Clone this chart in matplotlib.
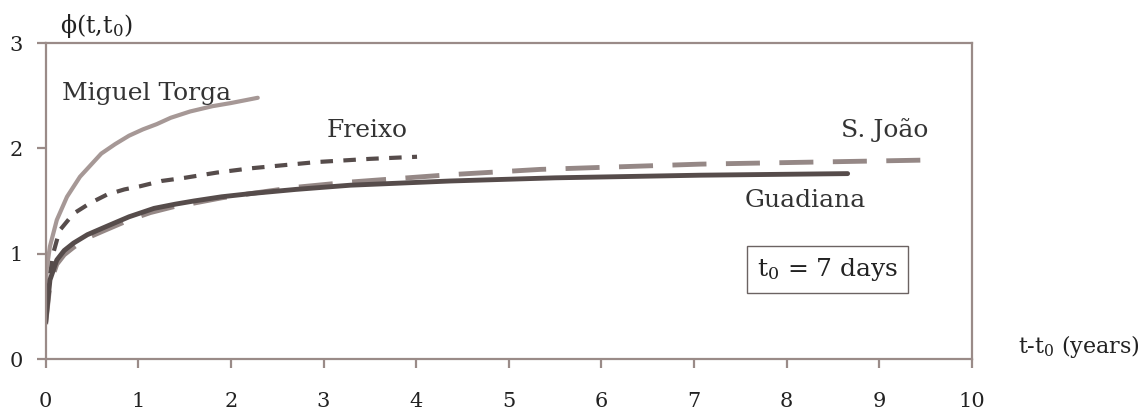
import matplotlib
matplotlib.use("Agg")
import matplotlib.pyplot as plt

# creep coefficient curves
mt_t = [0.0, 0.01, 0.046, 0.12, 0.23, 0.37, 0.6, 0.75, 0.9, 1.05, 1.2, 1.35, 1.56, 1.8, 2.0, 2.29]
mt_phi = [0.44, 0.85, 1.07, 1.32, 1.54, 1.73, 1.95, 2.04, 2.12, 2.18, 2.23, 2.29, 2.35, 2.40, 2.43, 2.48]

fx_t = [0.0, 0.03, 0.08, 0.15, 0.30, 0.48, 0.66, 0.85, 1.02, 1.25, 1.5, 1.85, 2.21, 2.93, 3.5, 4.01]
fx_phi = [0.38, 0.69, 1.0, 1.22, 1.38, 1.48, 1.56, 1.61, 1.64, 1.69, 1.72, 1.77, 1.81, 1.87, 1.90, 1.92]

gu_t = [0.0, 0.01, 0.046, 0.12, 0.20, 0.30, 0.45, 0.66, 0.9, 1.17, 1.4, 1.6, 1.9, 2.21, 2.7, 3.29, 4.37, 5.5, 7.07, 8.66]
gu_phi = [0.35, 0.44, 0.75, 0.94, 1.03, 1.10, 1.18, 1.26, 1.35, 1.43, 1.47, 1.50, 1.54, 1.57, 1.61, 1.65, 1.69, 1.72, 1.745, 1.76]

sj_t = [0.0, 0.01, 0.046, 0.12, 0.20, 0.30, 0.45, 0.66, 0.9, 1.13, 1.4, 1.6, 1.9, 2.21, 2.7, 3.29, 4.37, 5.34, 7.07, 9.6]
sj_phi = [0.33, 0.42, 0.71, 0.90, 0.99, 1.06, 1.15, 1.23, 1.32, 1.39, 1.45, 1.48, 1.53, 1.57, 1.63, 1.68, 1.75, 1.80, 1.85, 1.89]

x_ticks = [0, 1, 2, 3, 4, 5, 6, 7, 8, 9, 10]
y_ticks = [0, 1, 2, 3]

axis_col = "#9a8b88"
dark = "#564c4b"

plt.rcParams['font.family'] = ['DejaVu Serif']
plt.rcParams['mathtext.fontset'] = 'dejavuserif'

W, H = 1148, 415
fig = plt.figure(figsize=(W / 100, H / 100), dpi=100)
ax = fig.add_axes([45.7 / W, 56 / H, 926 / W, 316 / H])

ax.plot(mt_t, mt_phi, color="#a69896", lw=3, solid_capstyle='round', solid_joinstyle='round')
ax.plot(fx_t, fx_phi, color=dark, lw=3, dashes=(3, 2.5))
ax.plot(sj_t, sj_phi, color="#958886", lw=3.5, dashes=(7, 4))
ax.plot(gu_t, gu_phi, color=dark, lw=3.5, solid_capstyle='round', solid_joinstyle='round')

ax.set_xlim(0, 10)
ax.set_ylim(0, 3)
ax.set_xticks(x_ticks)
ax.set_yticks(y_ticks)
for s in ax.spines.values():
    s.set_color(axis_col)
    s.set_linewidth(1.6)
ax.tick_params(axis='both', colors=axis_col, width=1.6, length=6.5, labelsize=15, labelcolor="#222222")
ax.tick_params(axis='x', pad=17)
ax.tick_params(axis='y', pad=10)

txt = dict(fontsize=18, color="#333333", va='baseline')
ax.text(0.176, 2.46, "Miguel Torga", **txt)
ax.text(3.03, 2.11, "Freixo", **txt)
ax.text(9.53, 2.105, "S. João", ha='right', **txt)
ax.text(7.55, 1.446, "Guadiana", **txt)
ax.text(8.44, 0.85, r"t$_0$ = 7 days", va='center', ha='center', fontsize=18, color="#222222",
        bbox=dict(boxstyle='square,pad=0.4', fc='white', ec="#6b6362", lw=1))

fig.text(60 / W, 1 - 33 / H, "\u03d5(t,t$_0$)", va='baseline', ha='left', fontsize=17, color="#222222")
fig.text(1018 / W, 1 - 353 / H, r"t-t$_0$ (years)", va='baseline', ha='left', fontsize=16, color="#222222")

fig.savefig("out.png", dpi=100)
